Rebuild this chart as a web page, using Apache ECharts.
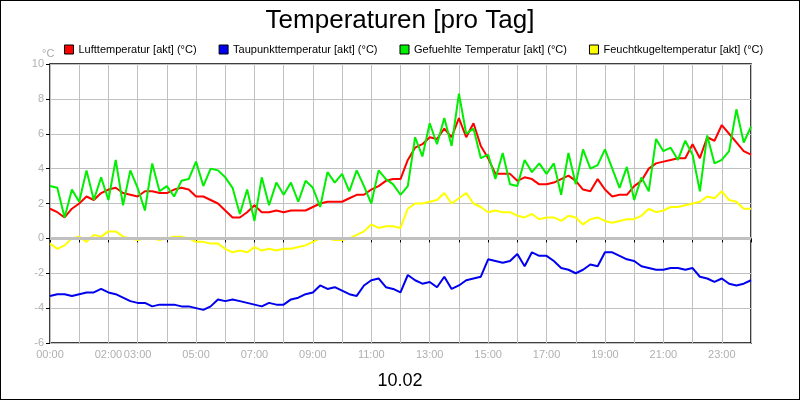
<!DOCTYPE html>
<html>
<head>
<meta charset="utf-8">
<script src="https://cdn.jsdelivr.net/npm/echarts@6/dist/echarts.min.js"></script>
<style>
  html, body { margin: 0; padding: 0; background: #fff; }
  #chart { width: 798px; height: 398px; border: 1px solid #000; }
</style>
</head>
<body>
<div id="chart"></div>
<script>
// 15-minute steps, 00:00 .. 24:00
const hours = []
for (let i = 0; i <= 96; i++) hours.push(i / 4)

const luft = [
  1.7, 1.5, 1.2, 1.7, 2.0, 2.4, 2.2, 2.6, 2.8, 2.9, 2.6, 2.5,
  2.4, 2.7, 2.7, 2.6, 2.6, 2.8, 2.9, 2.8, 2.4, 2.4, 2.2, 2.0,
  1.6, 1.2, 1.2, 1.5, 1.9, 1.5, 1.5, 1.6, 1.5, 1.6, 1.6, 1.6,
  1.8, 2.0, 2.1, 2.1, 2.1, 2.3, 2.5, 2.5, 2.8, 3.0, 3.3, 3.4,
  3.4, 4.5, 5.2, 5.4, 5.8, 5.7, 6.3, 5.8, 6.9, 5.8, 6.6, 5.3,
  4.6, 3.7, 3.7, 3.7, 3.3, 3.5, 3.4, 3.1, 3.1, 3.2, 3.4, 3.6,
  3.3, 2.8, 2.7, 3.4, 2.8, 2.4, 2.5, 2.5, 3.0, 3.3, 4.0, 4.3,
  4.4, 4.5, 4.6, 4.6, 5.4, 4.6, 5.8, 5.6, 6.5, 6.0, 5.5, 5.0,
  4.8
]
const taupunkt = [
  -3.3, -3.2, -3.2, -3.3, -3.2, -3.1, -3.1, -2.9, -3.1, -3.2, -3.4, -3.6,
  -3.7, -3.7, -3.9, -3.8, -3.8, -3.8, -3.9, -3.9, -4.0, -4.1, -3.9, -3.5,
  -3.6, -3.5, -3.6, -3.7, -3.8, -3.9, -3.7, -3.8, -3.8, -3.5, -3.4, -3.2,
  -3.1, -2.7, -2.9, -2.8, -3.0, -3.2, -3.3, -2.7, -2.4, -2.3, -2.8, -2.9,
  -3.1, -2.1, -2.4, -2.6, -2.5, -2.8, -2.2, -2.9, -2.7, -2.4, -2.3, -2.2,
  -1.2, -1.3, -1.4, -1.3, -0.9, -1.6, -0.8, -1.0, -1.0, -1.3, -1.7, -1.8,
  -2.0, -1.8, -1.5, -1.6, -0.8, -0.8, -1.0, -1.2, -1.3, -1.6, -1.7, -1.8,
  -1.8, -1.7, -1.7, -1.8, -1.7, -2.2, -2.3, -2.5, -2.3, -2.6, -2.7, -2.6,
  -2.4
]
const gefuehlt = [
  3.0, 2.9, 1.2, 2.8, 2.1, 3.9, 2.2, 3.5, 2.2, 4.5, 1.9, 3.9,
  2.9, 1.6, 4.3, 2.7, 3.0, 2.4, 3.3, 3.4, 4.4, 3.0, 4.0, 3.9,
  3.5, 2.9, 1.4, 2.8, 1.0, 3.5, 1.9, 3.2, 2.5, 3.2, 2.1, 3.3,
  2.9, 1.8, 3.8, 3.2, 3.7, 2.7, 3.9, 3.0, 2.0, 3.9, 3.4, 3.1,
  2.5, 3.0, 5.8, 4.7, 6.6, 5.4, 6.9, 5.3, 8.3, 6.0, 6.3, 4.6,
  4.8, 3.4, 4.9, 3.1, 3.0, 4.5, 3.8, 4.3, 3.7, 4.3, 2.5, 4.9,
  3.1, 5.1, 4.0, 4.2, 5.1, 4.0, 2.9, 4.1, 2.2, 3.5, 2.7, 5.7,
  5.0, 5.2, 4.5, 5.6, 4.8, 2.7, 5.9, 4.3, 4.5, 5.0, 7.4, 5.5,
  6.4
]
const feuchtkugel = [
  -0.3, -0.6, -0.4, 0.0, 0.1, -0.2, 0.2, 0.1, 0.4, 0.4, 0.1, 0.0,
  -0.1, 0.0, 0.0, -0.1, 0.0, 0.1, 0.1, 0.0, -0.2, -0.2, -0.3, -0.3,
  -0.6, -0.8, -0.7, -0.8, -0.5, -0.7, -0.6, -0.7, -0.6, -0.6, -0.5, -0.4,
  -0.2, 0.0, 0.0, -0.1, -0.1, 0.0, 0.2, 0.4, 0.8, 0.6, 0.7, 0.7,
  0.6, 1.7, 2.0, 2.0, 2.1, 2.2, 2.6, 2.0, 2.3, 2.6, 2.0, 1.8,
  1.5, 1.6, 1.5, 1.5, 1.3, 1.2, 1.4, 1.1, 1.2, 1.2, 1.0, 1.3,
  1.2, 0.8, 1.1, 1.2, 1.0, 0.9, 1.0, 1.1, 1.1, 1.3, 1.7, 1.5,
  1.6, 1.8, 1.8, 1.9, 2.0, 2.1, 2.4, 2.3, 2.7, 2.2, 2.1, 1.7,
  1.7
]
const shownHours = [0, 2, 3, 5, 7, 9, 11, 13, 15, 17, 19, 21, 23]
const names = ['Lufttemperatur [akt] (°C)', 'Taupunkttemperatur [akt] (°C)',
  'Gefuehlte Temperatur [akt] (°C)', 'Feuchtkugeltemperatur [akt] (°C)']

const pairs = arr => arr.map((v, i) => [hours[i], v])
const line = (name, color, arr) => ({
  name, type: 'line', data: pairs(arr), showSymbol: false, z: 3,
  lineStyle: { color, width: 2 }, itemStyle: { color }
})

const chart = echarts.init(document.getElementById('chart'))
chart.setOption({
  animation: false,
  textStyle: { fontFamily: 'Liberation Sans, Arial' },
  title: [
    { text: 'Temperaturen [pro Tag]', left: 'center', top: 2,
      textStyle: { fontSize: 26, fontWeight: 'normal', color: '#000' } },
    { text: '10.02', left: 'center', top: 366,
      textStyle: { fontSize: 18, fontWeight: 'normal', color: '#000' } },
    { text: '°C', left: 36, top: 42,
      textStyle: { fontSize: 11, fontWeight: 'normal', color: '#aaa' } }
  ],
  legend: {
    data: names, top: 38, left: 58, itemGap: 22, itemWidth: 9, itemHeight: 9,
    icon: 'rect', textStyle: { fontSize: 11, color: '#000' },
    itemStyle: { borderColor: '#000', borderWidth: 1 }
  },
  grid: { left: 49, right: 48, top: 63, bottom: 56, show: true, borderColor: '#000', borderWidth: 1.5 },
  xAxis: {
    type: 'value', min: 0, max: 24, interval: 1,
    axisLine: { show: false },
    axisTick: { show: true, length: 4, lineStyle: { color: '#000' } },
    splitLine: { show: true, lineStyle: { color: '#c0c0c0', width: 1 } },
    axisLabel: {
      color: '#b0b0b0', fontSize: 11, margin: 6, showMaxLabel: true,
      formatter: v => shownHours.includes(v) ? String(v).padStart(2, '0') + ':00' : ''
    }
  },
  yAxis: {
    type: 'value', min: -6, max: 10, interval: 2,
    axisLine: { show: false },
    axisTick: { show: true, length: 4, lineStyle: { color: '#000' } },
    splitLine: { show: true, lineStyle: { color: '#c0c0c0', width: 1 } },
    axisLabel: { color: '#b0b0b0', fontSize: 11, margin: 6 }
  },
  series: [
    {
      name: 'zero', type: 'line', data: [], z: 1,
      markLine: { silent: true, symbol: 'none', label: { show: false },
        lineStyle: { color: '#c0c0c0', width: 3, type: 'solid' }, data: [{ yAxis: 0 }] }
    },
    line(names[0], '#ff0000', luft),
    line(names[1], '#0000ee', taupunkt),
    line(names[2], '#00ee00', gefuehlt),
    line(names[3], '#ffff00', feuchtkugel)
  ]
})
</script>
</body>
</html>
